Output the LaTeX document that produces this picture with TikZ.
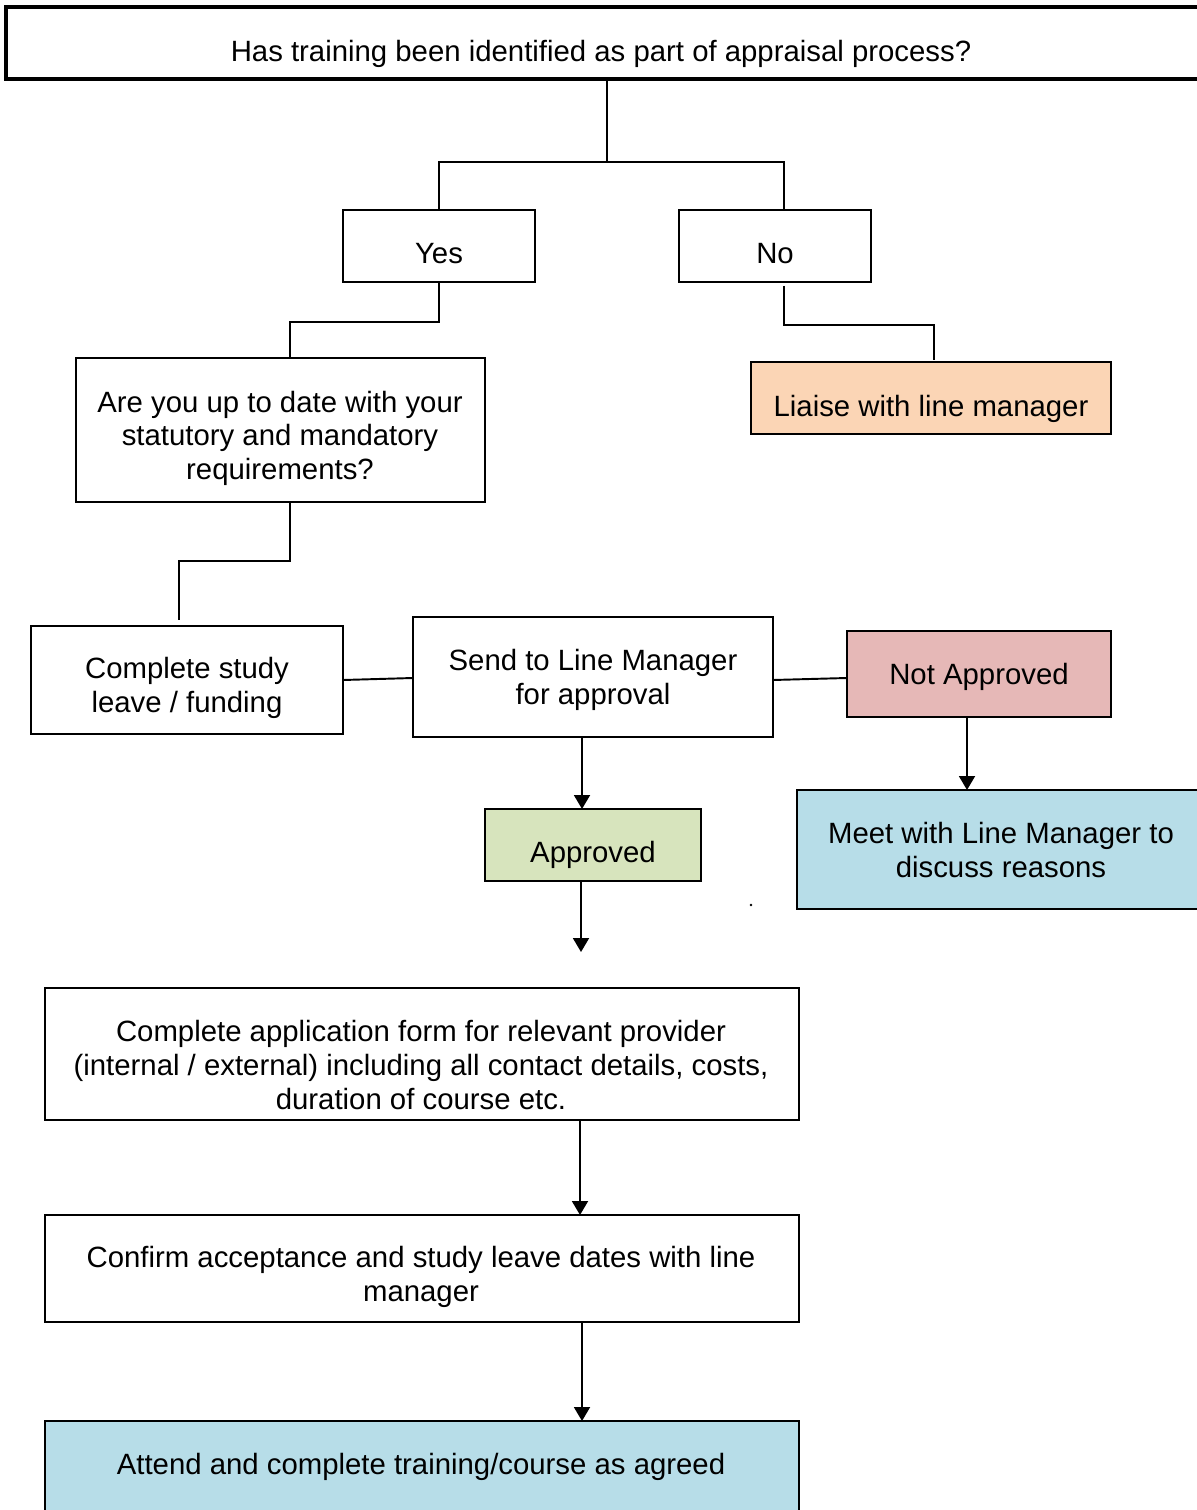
\documentclass[tikz,border=0pt]{standalone}
\usepackage{fontspec}
\setmainfont{Liberation Sans}
\usetikzlibrary{arrows.meta}
\definecolor{peach}{HTML}{FBD5B5}
\definecolor{pinkbox}{HTML}{E6B8B7}
\definecolor{greenbox}{HTML}{D7E4BD}
\definecolor{bluebox}{HTML}{B7DDE8}
\newcommand\bx[6]{\node[box,#6,minimum width={(#4-#2)*0.02cm},minimum height={(#5-#3)*0.02cm}] (#1) at ({(#2+#4)/2},{(#3+#5)/2}) {};}
\begin{document}
\begin{tikzpicture}[x=0.02cm,y=-0.02cm,
  box/.style={draw=black,line width=1.1pt,inner sep=0pt,outer sep=0pt,rectangle},
  txt/.style={align=center,inner sep=0pt,font=\fontsize{16.7}{19.1}\selectfont},
  conn/.style={line width=1.1pt},
  arr/.style={line width=1.1pt,-{Triangle[length=0.28cm,width=0.32cm]}}]
\useasboundingbox (0,0) rectangle (1196,1510);
% boxes
\bx{top}{6}{7}{1200}{79}{line width=1.8pt}
\bx{yes}{343}{210}{535}{282}{}
\bx{no}{679}{210}{871}{282}{}
\bx{liaise}{751}{362}{1111}{434}{fill=peach}
\bx{uptodate}{76}{358}{485}{502}{}
\bx{study}{31}{626}{343}{734}{}
\bx{send}{413}{617}{773}{737}{}
\bx{notapp}{847}{631}{1111}{717}{fill=pinkbox}
\bx{meet}{797}{790}{1205}{909}{fill=bluebox}
\bx{approved}{485}{809}{701}{881}{fill=greenbox}
\bx{apply}{45}{988}{799}{1120}{}
\bx{confirm}{45}{1215}{799}{1322}{}
\bx{attend}{45}{1421}{799}{1530}{fill=bluebox}
% texts
\node[txt] (ttop) at (601,54) {Has training been identified as part of appraisal process?};
\node[txt] (tyes) at (439,254) {Yes};
\node[txt] (tno) at (775,254) {No};
\node[txt] (tliaise) at (931,409) {Liaise with line manager};
\node[txt] (tupto) at (280,438) {Are you up to date with your\\statutory and mandatory\\requirements?};
\node[txt] (tstudy) at (187,688) {Complete study\\leave / funding};
\node[txt] (tsend) at (593,680) {Send to Line Manager\\for approval};
\node[txt] (tnotapp) at (979,677) {Not Approved};
\node[txt] (tmeet) at (1001,850) {Meet with Line Manager to\\discuss reasons};
\node[txt] (tappr) at (593,855) {Approved};
\node[txt] (tapply) at (421,1065) {Complete application form for relevant provider\\(internal / external) including all contact details, costs,\\duration of course etc.};
\node[txt] (tconfirm) at (421,1277) {Confirm acceptance and study leave dates with line\\manager};
\node[txt] (tattend) at (421,1467) {Attend and complete training/course as agreed};
% junction coordinates
\coordinate (j1) at (607,162);
\coordinate (j2) at (439,322);
\coordinate (j3) at (784,325);
\coordinate (j4) at (290,561);
\coordinate (free) at (581,952);
% connectors
\draw[conn] (top.south -| j1) -- (j1) -| (yes.north);
\draw[conn] (j1) -| (no.north -| j3);
\draw[conn] (yes.south) -- (j2) -| (uptodate.north -| j4);
\draw[conn] ([yshift=-4*0.02cm]no.south -| j3) -- (j3) -| ([yshift=2*0.02cm]liaise.north -| 934,0);
\draw[conn] (uptodate.south -| j4) -- (j4) -| ([yshift=6*0.02cm]study.north -| 179,0);
\draw[conn] (study.east |- 0,680) -- (send.west |- 0,678);
\draw[conn] (send.east |- 0,680) -- (notapp.west |- 0,678);
\draw[arr] (notapp.south -| 967,0) -- (meet.north -| 967,0);
\draw[arr] (send.south -| 582,0) -- (approved.north -| 582,0);
\draw[arr] (approved.south -| free) -- (free);
\draw[arr] (apply.south -| 580,0) -- (confirm.north -| 580,0);
\draw[arr] (confirm.south -| 582,0) -- (attend.north -| 582,0);
\fill (751,905) circle (0.8pt);
\end{tikzpicture}
\end{document}
